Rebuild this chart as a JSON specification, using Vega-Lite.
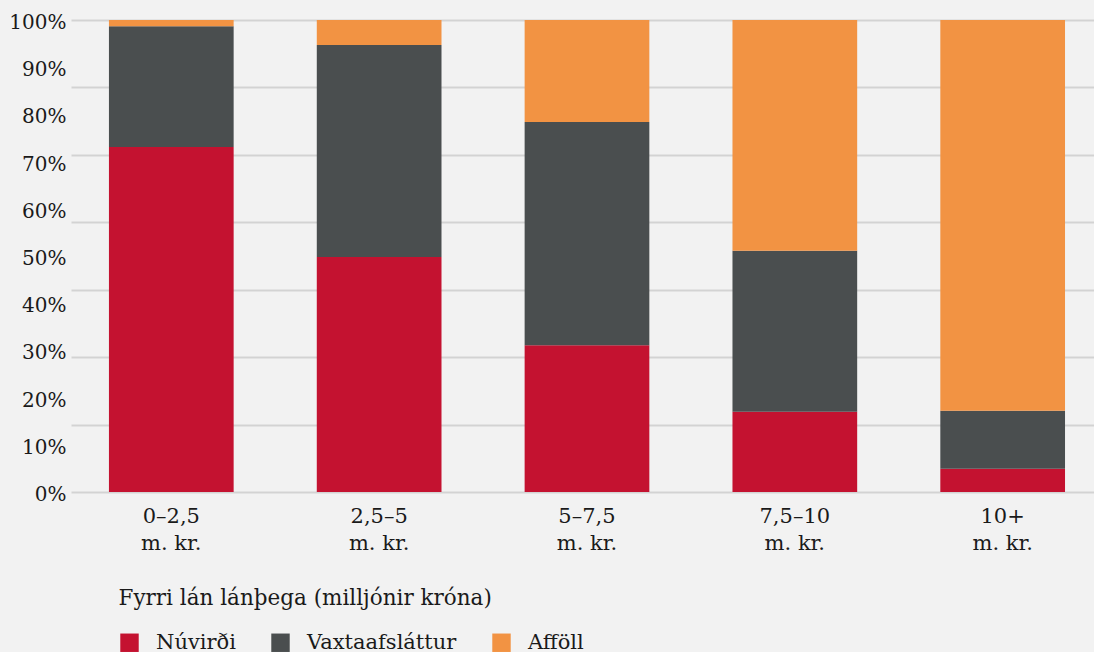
{
  "$schema": "https://vega.github.io/schema/vega-lite/v6.json",
  "width": 1023,
  "height": 472,
  "autosize": {"type": "none"},
  "padding": {"left": 71, "top": 20, "right": 0, "bottom": 160},
  "background": "#f2f2f2",
  "config": {
    "view": {"stroke": null},
    "font": "DejaVu Serif",
    "text": {"color": "#1a1a1a"}
  },
  "data": {
    "values": [
      {"flokkur": "0–2,5 m. kr.", "liður": "Núvirði", "hlutfall": 73.1},
      {"flokkur": "0–2,5 m. kr.", "liður": "Vaxtaafsláttur", "hlutfall": 25.6},
      {"flokkur": "0–2,5 m. kr.", "liður": "Afföll", "hlutfall": 1.3},
      {"flokkur": "2,5–5 m. kr.", "liður": "Núvirði", "hlutfall": 49.8},
      {"flokkur": "2,5–5 m. kr.", "liður": "Vaxtaafsláttur", "hlutfall": 44.9},
      {"flokkur": "2,5–5 m. kr.", "liður": "Afföll", "hlutfall": 5.3},
      {"flokkur": "5–7,5 m. kr.", "liður": "Núvirði", "hlutfall": 31.1},
      {"flokkur": "5–7,5 m. kr.", "liður": "Vaxtaafsláttur", "hlutfall": 47.3},
      {"flokkur": "5–7,5 m. kr.", "liður": "Afföll", "hlutfall": 21.6},
      {"flokkur": "7,5–10 m. kr.", "liður": "Núvirði", "hlutfall": 17.0},
      {"flokkur": "7,5–10 m. kr.", "liður": "Vaxtaafsláttur", "hlutfall": 34.1},
      {"flokkur": "7,5–10 m. kr.", "liður": "Afföll", "hlutfall": 48.9},
      {"flokkur": "10+ m. kr.", "liður": "Núvirði", "hlutfall": 4.9},
      {"flokkur": "10+ m. kr.", "liður": "Vaxtaafsláttur", "hlutfall": 12.3},
      {"flokkur": "10+ m. kr.", "liður": "Afföll", "hlutfall": 82.8}
    ]
  },
  "transform": [
    {"calculate": "indexof(['Núvirði', 'Vaxtaafsláttur', 'Afföll'], datum['liður'])", "as": "stafla"}
  ],
  "encoding": {
    "x": {
      "field": "flokkur",
      "type": "nominal",
      "sort": null,
      "scale": {"paddingInner": 0.4, "paddingOuter": 0.161, "align": 0.567},
      "axis": {
        "title": "Fyrri lán lánþega (milljónir króna)",
        "titleX": 47,
        "titleY": 106,
        "titleAlign": "left",
        "titleAnchor": null,
        "titleBaseline": "middle",
        "titleFontWeight": "normal",
        "titleFontSize": 21.5,
        "titleFont": "DejaVu Serif",
        "titleColor": "#1a1a1a",
        "labelExpr": "[replace(datum.label, ' m. kr.', ''), 'm. kr.']",
        "labelAngle": 0,
        "labelFontSize": 21,
        "labelFont": "DejaVu Serif",
        "labelColor": "#1a1a1a",
        "labelLineHeight": 27,
        "labelBaseline": "top",
        "labelPadding": 13,
        "ticks": false,
        "domain": false,
        "grid": false
      }
    }
  },
  "layer": [
    {
      "mark": {"type": "bar", "opacity": 0},
      "encoding": {
        "y": {
          "field": "hlutfall",
          "type": "quantitative",
          "stack": "zero",
          "scale": {"domain": [0, 100], "nice": false},
          "axis": {
            "orient": "right",
            "values": [0, 14.2857, 28.5714, 42.8571, 57.1429, 71.4286, 85.7143, 100],
            "grid": true,
            "gridColor": "#d3d3d3",
            "gridWidth": 2,
            "labels": false,
            "ticks": false,
            "domain": false,
            "title": null
          }
        }
      }
    },
    {
      "mark": {"type": "bar"},
      "encoding": {
        "y": {
          "field": "hlutfall",
          "type": "quantitative",
          "stack": "zero",
          "scale": {"domain": [0, 100], "nice": false},
          "axis": {
            "orient": "left",
            "values": [0, 10, 20, 30, 40, 50, 60, 70, 80, 90, 100],
            "labelExpr": "datum.value + '%'",
            "grid": false,
            "ticks": false,
            "domain": false,
            "title": null,
            "labelFontSize": 20,
            "labelFont": "DejaVu Serif",
            "labelColor": "#1a1a1a",
            "labelPadding": 5,
            "labelOffset": 2.5
          }
        },
        "order": {"field": "stafla", "type": "quantitative", "sort": "ascending"},
        "color": {
          "field": "liður",
          "type": "nominal",
          "sort": ["Núvirði", "Vaxtaafsláttur", "Afföll"],
          "scale": {
            "domain": ["Núvirði", "Vaxtaafsláttur", "Afföll"],
            "range": ["#c41230", "#4a4e4f", "#f29343"]
          },
          "legend": {
            "orient": "none",
            "direction": "horizontal",
            "legendX": 48,
            "legendY": 612,
            "title": null,
            "symbolType": "square",
            "symbolSize": 340,
            "symbolStrokeWidth": 0,
            "symbolOpacity": 1,
            "labelFontSize": 21,
            "labelFont": "DejaVu Serif",
            "labelColor": "#1a1a1a",
            "labelOffset": 16,
            "columnPadding": 34
          }
        }
      }
    }
  ],
  "resolve": {"axis": {"y": "independent"}}
}
